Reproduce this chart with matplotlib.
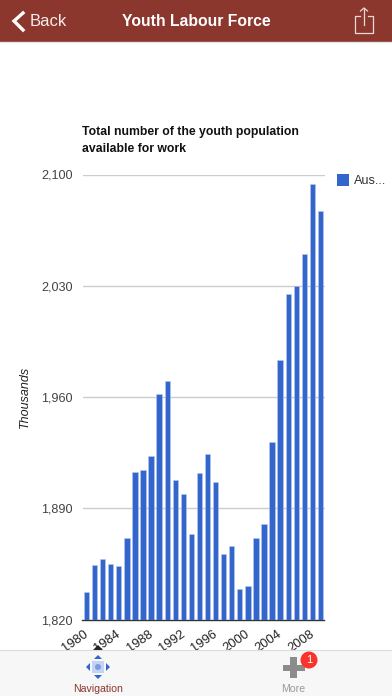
import matplotlib
matplotlib.use('Agg')
import matplotlib.pyplot as plt
from matplotlib.patches import Rectangle, Polygon, Circle
from matplotlib.transforms import ScaledTranslation

plt.rcParams['font.family'] = ['Liberation Sans', 'DejaVu Sans']

years = list(range(1980, 2010))
values = [1837, 1854, 1858, 1855, 1853.5, 1871, 1913, 1914, 1923, 1962,
          1970, 1908, 1899, 1874, 1912, 1924, 1906.5, 1861, 1866, 1839,
          1841, 1871.5, 1880, 1931.5, 1983, 2025, 2030, 2050, 2094, 2077]
y_ticks = [1820, 1890, 1960, 2030, 2100]
y_labels = ['1,820', '1,890', '1,960', '2,030', '2,100']
x_ticks = [1980, 1984, 1988, 1992, 1996, 2000, 2004, 2008]

W, H = 392, 696
BLUE = '#3366cc'
HEADER = '#8c372e'

fig = plt.figure(figsize=(W / 100, H / 100), dpi=100, facecolor='white')

# chart area, placed in pixels
left, right, top, bottom = 82.5, 324.5, 174.5, 619.5
ax = fig.add_axes([left / W, 1 - bottom / H, (right - left) / W, (bottom - top) / H])
ax.bar(years, values, width=0.66, color=BLUE, edgecolor='#b9c9ec', linewidth=0.4, zorder=3)
ax.set_xlim(1979.5, 2009.5)
ax.set_ylim(1820, 2100)
ax.set_yticks(y_ticks)
ax.set_yticklabels(y_labels, fontsize=9.1, color='#444444')
ax.set_xticks(x_ticks)
ax.set_xticklabels(x_ticks, fontsize=9.3, color='#222222', rotation=35, ha='right',
                   rotation_mode='anchor')
ax.tick_params(axis='both', length=0)
ax.tick_params(axis='y', pad=7)
ax.tick_params(axis='x', pad=6)
# labels end a little left of their bars
shift = ScaledTranslation(-3 / 100, 0, fig.dpi_scale_trans)
for label in ax.get_xticklabels():
    label.set_transform(label.get_transform() + shift)
ax.grid(axis='y', color='#cccccc', linewidth=1, zorder=0)
for s in ['top', 'right', 'left']:
    ax.spines[s].set_visible(False)
ax.spines['bottom'].set_color('#333333')
ax.spines['bottom'].set_linewidth(1)

# app chrome and loose labels, in pixel coordinates
ui = fig.add_axes([0, 0, 1, 1], zorder=5)
ui.set_xlim(0, W)
ui.set_ylim(H, 0)
ui.axis('off')
ui.patch.set_alpha(0)

ui.text(82.5, 132.5, 'Total number of the youth population', fontsize=8.8, fontweight='bold',
        color='#111111', va='center')
ui.text(82.5, 148.5, 'available for work', fontsize=8.8, fontweight='bold', color='#111111', va='center')
ui.text(25, 397, 'Thousands', fontsize=9, style='italic', color='#222222', rotation=90,
        ha='center', va='center')
ui.add_patch(Rectangle((337, 174), 12, 12, color=BLUE, lw=0))
ui.text(354, 180.5, 'Aus...', fontsize=9.1, color='#333333', va='center')

# header
ui.add_patch(Rectangle((0, 0), W, 41.5, color=HEADER, lw=0))
ui.plot([0, W], [42, 42], color='#e4e4e4', lw=1)
ui.plot([23, 14, 23], [13, 21, 30], color='white', lw=2.4, solid_joinstyle='miter')
ui.text(30, 21.5, 'Back', fontsize=12, color='#f5eeed', va='center')
ui.text(196, 21.5, 'Youth Labour Force', fontsize=11.3, fontweight='bold', color='white',
        ha='center', va='center')
ui.plot([360, 355, 355, 373, 373, 368], [16, 16, 32.5, 32.5, 16, 16], color='#e8d8d6', lw=0.9)
ui.plot([364, 364], [8, 25], color='#e8d8d6', lw=0.9)
ui.plot([360.5, 364, 367.5], [11, 8, 11], color='#e8d8d6', lw=0.9)

# footer
ui.add_patch(Rectangle((0, 649.5), W, H - 649.5, color='#f7f7f7', lw=0))
ui.plot([0, W], [649.5, 649.5], color='#dddddd', lw=0.8)
ui.add_patch(Polygon([[93, 650], [103, 650], [98, 645]], color='#222222', lw=0))
ui.add_patch(Rectangle((92, 661), 12, 12, color='#c5d3f2', lw=0))
ui.add_patch(Circle((98, 667), 3, color='#7c9ae6', lw=0))
ui.add_patch(Polygon([[94, 659], [102, 659], [98, 655]], color=BLUE, lw=0))
ui.add_patch(Polygon([[94, 675], [102, 675], [98, 679]], color=BLUE, lw=0))
ui.add_patch(Polygon([[90, 663], [90, 671], [86, 667]], color=BLUE, lw=0))
ui.add_patch(Polygon([[106, 663], [106, 671], [110, 667]], color=BLUE, lw=0))
ui.text(98, 689, 'Navigation', fontsize=7.6, color=HEADER, ha='center', va='center')

ui.add_patch(Rectangle((283, 664.5), 22, 6, color='#8c8c8c', lw=0))
ui.add_patch(Rectangle((290.5, 657), 6.5, 21, color='#8c8c8c', lw=0))
ui.add_patch(Circle((309, 660), 8.5, color='#f8342c', lw=0))
ui.text(309, 660, '1', fontsize=8, color='white', ha='center', va='center')
ui.text(293, 689, 'More', fontsize=7.6, color='#999999', ha='center', va='center')

fig.savefig('out.png', dpi=100)
plt.close(fig)
